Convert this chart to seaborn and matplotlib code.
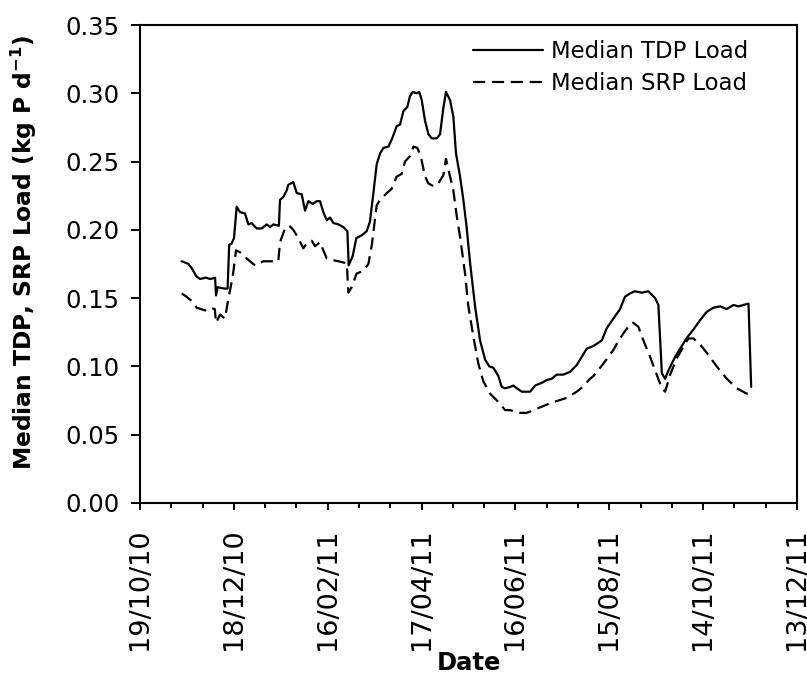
import matplotlib
matplotlib.use("Agg")
import matplotlib.pyplot as plt
import matplotlib.dates as mdates
from matplotlib.lines import Line2D
from matplotlib.ticker import MultipleLocator, FormatStrFormatter
import seaborn as sns
import pandas as pd

# Sampling days counted from 19 Oct 2010, with the median daily loads (kg P d-1)
start = pd.Timestamp("2010-10-19")

tdp_days = [26.6, 29.0, 31.0, 33.0, 36.0, 38.4, 42.0, 45.0, 48.0, 48.6, 49.6, 54.0, 56.0,
            57.0, 58.6, 60.1, 61.8, 63.9, 67.1, 69.3, 71.4, 74.6, 77.8, 81.0, 83.1, 85.2,
            88.8, 89.5, 91.6, 93.8, 94.8, 98.0, 100.2, 103.4, 105.5, 107.6, 110.4, 113.0,
            115.1, 117.2, 119.4, 121.5, 123.6, 126.8, 130.0, 132.6, 133.4, 136.0, 138.3,
            141.7, 144.9, 147.0, 149.2, 151.3, 153.5, 155.6, 158.8, 160.9, 164.1, 166.2,
            168.4, 170.9, 172.6, 174.3, 176.9, 178.5, 180.1, 182.2, 184.4, 186.5, 189.7,
            191.8, 193.9, 195.6, 198.2, 200.3, 202.0, 204.6, 206.7, 208.8, 211.0, 214.2,
            217.4, 220.6, 223.3, 225.9, 229.1, 231.2, 233.4, 236.6, 238.7, 240.9, 244.1,
            249.4, 252.6, 256.9, 260.0, 263.2, 266.4, 270.6, 274.9, 279.2, 282.4, 285.6,
            289.9, 295.2, 298.4, 302.6, 306.9, 310.0, 313.3, 316.4, 320.7, 325.0, 329.3,
            331.4, 333.6, 335.7, 337.8, 342.1, 345.3, 349.6, 353.8, 358.1, 362.3, 366.6,
            370.9, 375.1, 379.4, 382.6, 385.8, 389.0, 390.7]
tdp_load = [0.177, 0.176, 0.175, 0.172, 0.166, 0.164, 0.165, 0.164, 0.165, 0.152, 0.158, 0.157, 0.157,
            0.189, 0.190, 0.194, 0.217, 0.213, 0.212, 0.204, 0.205, 0.201, 0.201, 0.204, 0.202, 0.204,
            0.203, 0.222, 0.224, 0.229, 0.233, 0.235, 0.227, 0.226, 0.214, 0.221, 0.219, 0.221,
            0.221, 0.213, 0.207, 0.209, 0.205, 0.204, 0.202, 0.199, 0.174, 0.181, 0.194,
            0.196, 0.199, 0.206, 0.227, 0.248, 0.256, 0.260, 0.261, 0.266, 0.276, 0.277,
            0.287, 0.290, 0.298, 0.301, 0.300, 0.301, 0.295, 0.280, 0.270, 0.267, 0.267,
            0.270, 0.289, 0.301, 0.295, 0.283, 0.256, 0.239, 0.222, 0.202, 0.176, 0.144,
            0.119, 0.105, 0.100, 0.099, 0.093, 0.085, 0.084, 0.085, 0.086, 0.084, 0.0815,
            0.0815, 0.086, 0.088, 0.090, 0.091, 0.094, 0.094, 0.096, 0.101, 0.107, 0.113,
            0.115, 0.119, 0.128, 0.135, 0.142, 0.151, 0.1535, 0.155, 0.154, 0.155, 0.150,
            0.145, 0.095, 0.091, 0.097, 0.107, 0.113, 0.121, 0.127, 0.134, 0.140, 0.143,
            0.144, 0.142, 0.145, 0.144, 0.145, 0.146, 0.085]

srp_days = [26.6, 29.8, 34.0, 36.2, 41.6, 44.8, 47.8, 48.6, 51.2, 54.3, 56.4, 59.3, 61.4,
            65.0, 68.2, 73.5, 78.8, 83.1, 88.4, 89.5, 92.7, 95.5, 98.0, 101.2, 104.4, 106.5,
            109.8, 111.9, 115.1, 117.2, 119.4, 122.6, 126.8, 132.2, 133.2, 135.3, 138.5,
            142.8, 146.0, 148.2, 151.3, 153.5, 157.8, 160.9, 164.1, 167.3, 169.4, 172.6,
            174.8, 177.3, 179.5, 182.2, 184.4, 187.6, 190.7, 193.9, 195.6, 197.8, 200.3,
            202.5, 204.6, 207.8, 209.9, 213.1, 216.3, 219.5, 223.8, 229.1, 233.4, 236.6,
            243.0, 247.2, 253.6, 262.1, 272.8, 279.2, 283.0, 287.7, 289.9, 296.2, 302.6,
            306.0, 310.1, 313.5, 315.3, 318.6, 321.8, 326.1, 330.3, 333.6, 335.7, 338.9,
            343.2, 347.4, 350.6, 353.8, 358.1, 362.3, 368.7, 375.1, 381.5, 387.9, 390.0]
srp_load = [0.1535, 0.151, 0.147, 0.143, 0.141, 0.143, 0.142, 0.132, 0.138, 0.135, 0.149, 0.166, 0.185,
            0.183, 0.179, 0.174, 0.177, 0.177, 0.177, 0.191, 0.201, 0.203, 0.200, 0.194, 0.1865, 0.190,
            0.192, 0.188, 0.191, 0.185, 0.179, 0.178, 0.177, 0.1755, 0.154, 0.158, 0.168,
            0.170, 0.175, 0.189, 0.218, 0.222, 0.227, 0.230, 0.239, 0.241, 0.250, 0.254,
            0.261, 0.260, 0.254, 0.239, 0.234, 0.232, 0.234, 0.240, 0.252, 0.241, 0.229,
            0.210, 0.195, 0.168, 0.144, 0.122, 0.102, 0.089, 0.080, 0.074, 0.068, 0.068,
            0.066, 0.066, 0.069, 0.073, 0.077, 0.0815, 0.085, 0.091, 0.093, 0.102, 0.112,
            0.119, 0.126, 0.131, 0.132, 0.129, 0.119, 0.107, 0.094, 0.084, 0.0815, 0.094,
            0.106, 0.1145, 0.1205, 0.1205, 0.116, 0.110, 0.100, 0.091, 0.084, 0.080, 0.081]

series_labels = ["Median TDP Load", "Median SRP Load"]

tdp_dates = start + pd.to_timedelta(tdp_days, unit="D")
srp_dates = start + pd.to_timedelta(srp_days, unit="D")

sns.set_style("white")
plt.rcParams["font.family"] = ["DejaVu Sans"]
plt.rcParams.update({"text.color": "black", "axes.labelcolor": "black",
                     "xtick.color": "black", "ytick.color": "black"})

fig = plt.figure(figsize=(8.07, 6.80), dpi=100)
ax = fig.add_axes([140 / 807, 1 - 503 / 680, 657 / 807, 478 / 680])

lw = 1.6
dash = (0, (5.5, 3))
sns.lineplot(x=tdp_dates, y=tdp_load, ax=ax, color="black", linewidth=lw,
             sort=False, estimator=None, legend=False)
sns.lineplot(x=srp_dates, y=srp_load, ax=ax, color="black", linewidth=lw,
             linestyle=dash, sort=False, estimator=None, legend=False)

# Axes limits and ticks
ax.set_ylim(0, 0.35)
ax.yaxis.set_major_locator(MultipleLocator(0.05))
ax.yaxis.set_major_formatter(FormatStrFormatter("%.2f"))

x0, x1 = pd.Timestamp("2010-10-19"), pd.Timestamp("2011-12-13")
ax.set_xlim(x0, x1)
ax.set_xticks(pd.date_range(x0, x1, freq="60D"))
ax.set_xticks(pd.date_range(x0, x1, freq="20D"), minor=True)
ax.xaxis.set_major_formatter(mdates.DateFormatter("%d/%m/%y"))

for side in ["left", "right", "top", "bottom"]:
    ax.spines[side].set_visible(True)
    ax.spines[side].set_color("black")
    ax.spines[side].set_linewidth(1.5)

ax.tick_params(axis="y", which="major", direction="out", length=6.5, width=1.4,
               pad=8, labelsize=17.5, colors="black", left=True, right=False)
ax.tick_params(axis="x", which="major", direction="out", length=5, width=1.4,
               pad=13, labelsize=19.5, labelrotation=90, colors="black", bottom=True)
ax.tick_params(axis="x", which="minor", direction="out", length=3.8, width=1.4,
               bottom=True, colors="black")
for lab in ax.get_xticklabels():
    lab.set_va("top")
    lab.set_ha("center")

ax.set_xlabel("Date", fontsize=17.5, fontweight="bold", color="black")
ax.set_ylabel("Median TDP, SRP Load (kg P d$^{\\mathbf{-1}}$)", fontsize=16.8,
              fontweight="bold", color="black")
ax.xaxis.set_label_coords(0.5, -0.31)
ax.yaxis.set_label_coords(-0.154, 0.525)

handles = [Line2D([], [], color="black", linewidth=lw),
           Line2D([], [], color="black", linewidth=lw, linestyle=dash)]
leg = ax.legend(handles, series_labels, loc="upper left", bbox_to_anchor=(0.507, 0.968),
                frameon=False, fontsize=16.4, handlelength=3.07, handletextpad=0.35,
                labelspacing=0.37, borderpad=0, borderaxespad=0)
for t in leg.get_texts():
    t.set_color("black")

fig.savefig("out.png", dpi=100)
